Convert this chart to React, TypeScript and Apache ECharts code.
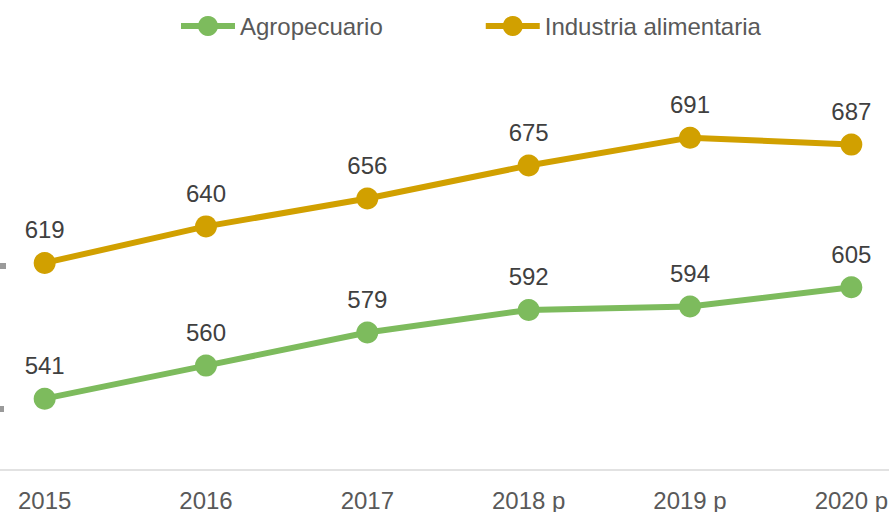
import React, { useEffect, useRef } from "react";
import * as echarts from "echarts";

const years = ["2015", "2016", "2017", "2018 p", "2019 p", "2020 p"];
const agropecuario = [541, 560, 579, 592, 594, 605];
const industriaAlimentaria = [619, 640, 656, 675, 691, 687];

const GREEN = "#7dbb5d";
const GOLD = "#d1a000";
const FONT = "'Liberation Sans', Arial, sans-serif";

export default function App() {
  const ref = useRef<HTMLDivElement>(null);

  useEffect(() => {
    if (!ref.current) return;
    const chart = echarts.init(ref.current, null, { renderer: "svg" });
    const labelStyle = {
      show: true,
      position: "top" as const,
      distance: 10,
      fontSize: 24,
      color: "#404040",
      fontFamily: FONT,
    };
    chart.setOption({
      animation: false,
      textStyle: { fontFamily: FONT },
      legend: {
        left: 173,
        top: 9,
        itemWidth: 54,
        itemHeight: 25,
        itemGap: 100,
        lineStyle: { width: 6 },
        textStyle: { fontSize: 24, color: "#595959", fontFamily: FONT },
        data: ["Agropecuario", "Industria alimentaria"],
      },
      grid: {
        left: -36,
        width: 968,
        top: 35,
        height: 435,
        containLabel: false,
        outerBoundsMode: "none",
      },
      xAxis: {
        type: "category",
        data: years,
        boundaryGap: true,
        axisLine: { lineStyle: { color: "#d9d9d9", width: 1.5 } },
        axisTick: { show: false },
        axisLabel: { fontSize: 24, color: "#595959", margin: 18, fontFamily: FONT },
      },
      yAxis: {
        type: "value",
        min: 500,
        max: 750,
        show: false,
        splitLine: { show: false },
      },
      graphic: [
        { type: "rect", shape: { x: 0, y: 263, width: 6, height: 6 }, style: { fill: "#9a9a9a" } },
        { type: "rect", shape: { x: 0, y: 406, width: 4, height: 6 }, style: { fill: "#9a9a9a" } },
      ],
      series: [
        {
          name: "Agropecuario",
          type: "line",
          data: agropecuario,
          symbol: "circle",
          symbolSize: 22,
          lineStyle: { color: GREEN, width: 6 },
          itemStyle: { color: GREEN },
          label: labelStyle,
        },
        {
          name: "Industria alimentaria",
          type: "line",
          data: industriaAlimentaria,
          symbol: "circle",
          symbolSize: 22,
          lineStyle: { color: GOLD, width: 6 },
          itemStyle: { color: GOLD },
          label: labelStyle,
        },
      ],
    });
    return () => chart.dispose();
  }, []);

  return (
    <div
      ref={ref}
      style={{ position: "fixed", left: 0, top: 0, width: 889, height: 512, background: "#fff" }}
    />
  );
}
